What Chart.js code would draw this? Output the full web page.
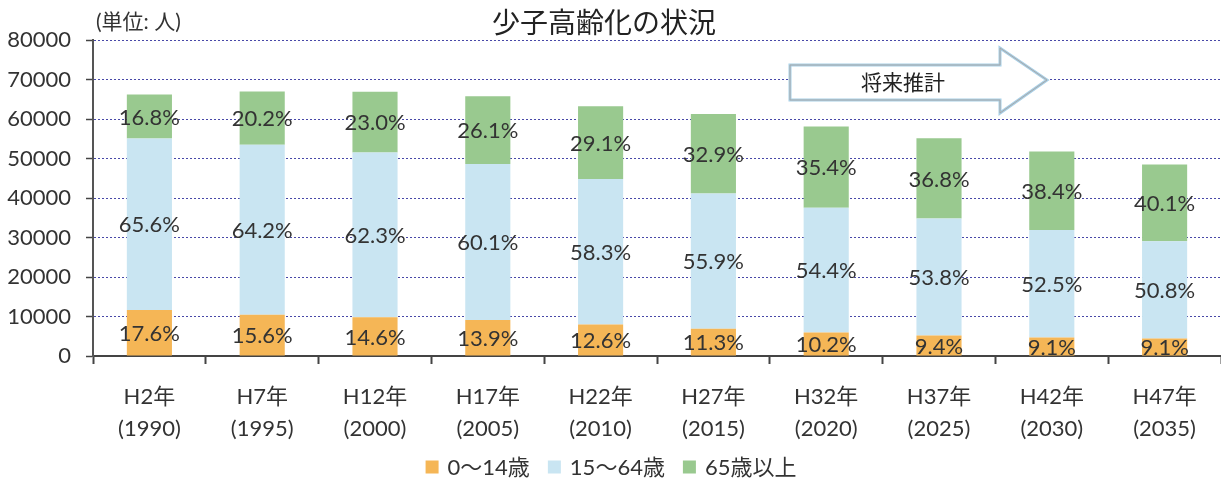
<!DOCTYPE html>
<html><head><meta charset="utf-8">
<script src="https://cdn.jsdelivr.net/npm/chart.js@4.4.1/dist/chart.umd.min.js"></script>
<style>html,body{margin:0;padding:0;background:#fff;}#wrap{width:1221px;height:482px;position:relative;}</style>
</head><body><div id="wrap"><canvas id="c" width="1221" height="482"></canvas></div>
<script>
const categories = [['H2年','(1990)'],['H7年','(1995)'],['H12年','(2000)'],['H17年','(2005)'],['H22年','(2010)'],['H27年','(2015)'],['H32年','(2020)'],['H37年','(2025)'],['H42年','(2030)'],['H47年','(2035)']];
const seriesNames = ['0〜14歳','15〜64歳','65歳以上'];
const young   = [11650, 10450, 9780, 9130, 7960, 6920, 5930, 5180, 4710, 4410];
const working = [43430, 43010, 41740, 39490, 36850, 34210, 31610, 29640, 27200, 24640];
const elderly = [11120, 13530, 15410, 17150, 18390, 20130, 20570, 20280, 19890, 19450];
const youngPct   = ['17.6%','15.6%','14.6%','13.9%','12.6%','11.3%','10.2%','9.4%','9.1%','9.1%'];
const workingPct = ['65.6%','64.2%','62.3%','60.1%','58.3%','55.9%','54.4%','53.8%','52.5%','50.8%'];
const elderlyPct = ['16.8%','20.2%','23.0%','26.1%','29.1%','32.9%','35.4%','36.8%','38.4%','40.1%'];
const yMin = 0, yMax = 80000, yStep = 10000;
const titleText = '少子高齢化の状況';
const unitText = '(単位: 人)';
const arrowText = '将来推計';

const FONT = "Lato, 'Noto Sans CJK JP', sans-serif";
const CJK = "'Noto Sans CJK JP', sans-serif";
const colors = ['#F5B656', '#C9E5F2', '#99C98F'];
const pctLabels = [youngPct, workingPct, elderlyPct];

const overlay = {
  id: 'overlay',
  afterDatasetsDraw(chart) {
    const ctx = chart.ctx;
    ctx.save();
    ctx.font = '22px ' + FONT;
    ctx.fillStyle = '#333';
    ctx.textAlign = 'center';
    ctx.textBaseline = 'middle';
    chart.data.datasets.forEach((ds, i) => {
      const meta = chart.getDatasetMeta(i);
      meta.data.forEach((el, j) => {
        ctx.fillText(pctLabels[i][j], el.x, (el.y + el.base) / 2 + 1);
      });
    });
    ctx.restore();
  },
  afterDraw(chart) {
    const ctx = chart.ctx;
    ctx.save();
    // title
    ctx.fillStyle = '#222';
    ctx.textAlign = 'center';
    ctx.textBaseline = 'middle';
    ctx.font = '28px ' + CJK;
    ctx.fillText(titleText, 604, 22);
    // unit
    ctx.textAlign = 'left';
    ctx.font = '21px ' + FONT;
    ctx.fillStyle = '#333';
    ctx.fillText(unitText, 96, 22);
    // arrow
    ctx.beginPath();
    ctx.moveTo(790, 65); ctx.lineTo(1000, 65); ctx.lineTo(1000, 48);
    ctx.lineTo(1047, 80); ctx.lineTo(1000, 113); ctx.lineTo(1000, 100);
    ctx.lineTo(790, 100); ctx.closePath();
    ctx.fillStyle = '#fff';
    ctx.fill();
    ctx.strokeStyle = '#a8cfe6';
    ctx.lineWidth = 3;
    ctx.stroke();
    ctx.strokeStyle = '#a8a8a8';
    ctx.lineWidth = 1;
    ctx.stroke();
    ctx.fillStyle = '#222';
    ctx.textAlign = 'center';
    ctx.font = '21px ' + CJK;
    ctx.fillText(arrowText, 903, 82);
    // legend
    ctx.font = '22px ' + FONT;
    const box = 13, gapBox = 9, gapItem = 18;
    const widths = chart.data.datasets.map(d => ctx.measureText(d.label).width);
    let total = 0;
    widths.forEach((w, i) => { total += box + gapBox + w + (i < widths.length - 1 ? gapItem : 0); });
    let x = 611 - total / 2;
    const ly = 467;
    ctx.textAlign = 'left';
    chart.data.datasets.forEach((d, i) => {
      ctx.fillStyle = d.backgroundColor;
      ctx.fillRect(x, ly - box / 2, box, box);
      x += box + gapBox;
      ctx.fillStyle = '#333';
      ctx.fillText(d.label, x, ly + 1);
      x += widths[i] + gapItem;
    });
    ctx.restore();
  }
};

new Chart(document.getElementById('c'), {
  type: 'bar',
  data: {
    labels: categories,
    datasets: [
      { label: seriesNames[0], data: young, backgroundColor: colors[0] },
      { label: seriesNames[1], data: working, backgroundColor: colors[1] },
      { label: seriesNames[2], data: elderly, backgroundColor: colors[2] }
    ]
  },
  options: {
    responsive: false,
    animation: false,
    devicePixelRatio: 1,
    layout: { padding: { top: 40, right: 0, bottom: 0, left: 0 } },
    plugins: { legend: { display: false }, title: { display: false }, tooltip: { enabled: false } },
    datasets: { bar: { categoryPercentage: 1, barPercentage: 0.4 } },
    scales: {
      x: {
        stacked: true,
        offset: true,
        grid: { display: true, drawOnChartArea: false, drawTicks: true, tickLength: 8, tickColor: '#444', tickWidth: 2, offset: true },
        border: { display: true, color: '#444', width: 2 },
        ticks: { color: '#333', font: { size: 22, family: FONT, lineHeight: 1.45 }, padding: 17, maxRotation: 0, autoSkip: false },
        afterFit(s) { s.height = 126; }
      },
      y: {
        stacked: true,
        min: yMin, max: yMax,
        ticks: { stepSize: yStep, color: '#333', font: { size: 22, family: FONT }, padding: 15, callback: v => String(v) },
        grid: { color: '#4848a8', lineWidth: 1, drawTicks: true, tickLength: 7, tickColor: '#444', tickWidth: 1.5, tickBorderDash: [] },
        border: { display: true, color: '#555', width: 2, dash: [2, 2] },
        afterFit(s) { s.width = 93; }
      }
    }
  },
  plugins: [overlay]
});
</script></body></html>
